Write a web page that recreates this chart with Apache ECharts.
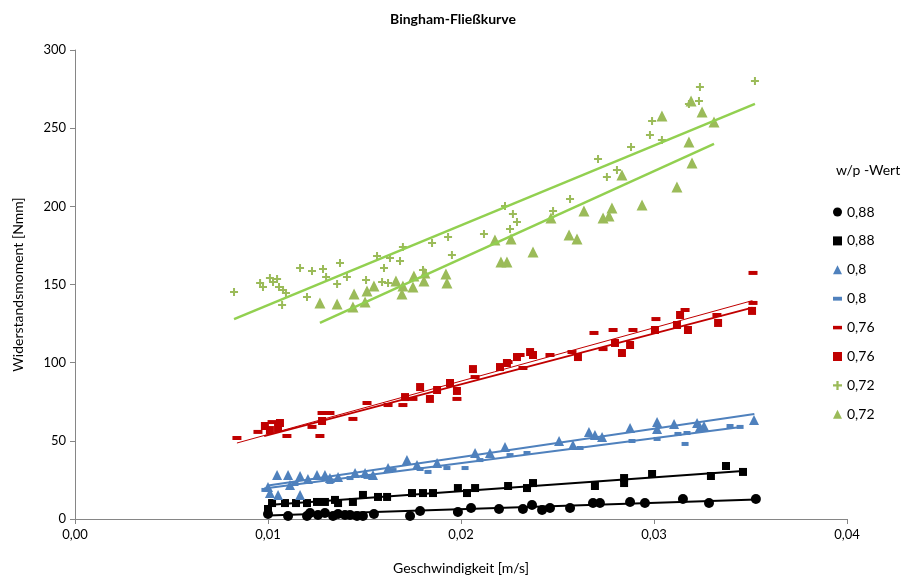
<!DOCTYPE html>
<html><head><meta charset="utf-8">
<script src="https://cdn.jsdelivr.net/npm/echarts@6/dist/echarts.min.js"></script>
<style>html,body{margin:0;padding:0;background:#fff}#c{width:906px;height:581px}</style>
</head><body><div id="c"></div>
<script>
// ---- data (x = Geschwindigkeit [m/s], y = Widerstandsmoment [Nmm]) ----
const xTicks = [0, 0.01, 0.02, 0.03, 0.04];
const yTicks = [0, 50, 100, 150, 200, 250, 300];
const legendNames = ['0,88', '0,88', '0,8', '0,8', '0,76', '0,76', '0,72', '0,72'];

const s088circle = [[0.0100,3.2],[0.01104,1.9],[0.01202,1.9],[0.01218,3.8],[0.01259,2.6],[0.01295,3.8],[0.01337,1.9],[0.01363,3.2],[0.01399,2.6],[0.01425,2.6],[0.01461,1.9],[0.01492,1.9],[0.01549,3.2],[0.01736,1.9],[0.01788,5.1],[0.01984,4.5],[0.02052,7.0],[0.02197,6.4],[0.02321,6.4],[0.02368,9.0],[0.02420,5.8],[0.02461,7.0],[0.02565,7.0],[0.02684,10.2],[0.02720,10.2],[0.02876,10.9],[0.02953,10.2],[0.03150,12.8],[0.03285,10.2],[0.03528,12.8]];
const s088square = [[0.0100,6.4],[0.01021,10.2],[0.01088,10.2],[0.01145,10.2],[0.01202,10.2],[0.01254,10.9],[0.01295,10.9],[0.01347,12.2],[0.01363,10.2],[0.01440,10.9],[0.01492,15.4],[0.01570,14.1],[0.01617,14.1],[0.01746,16.6],[0.01803,16.6],[0.01855,16.6],[0.01984,19.8],[0.02031,16.6],[0.02073,19.8],[0.02244,21.1],[0.02342,19.8],[0.02373,23.0],[0.02694,21.1],[0.02845,26.2],[0.02845,23.0],[0.02990,28.8],[0.03295,27.5],[0.03373,33.9],[0.03461,30.1]];
const s080tri = [[0.0100,20.5],[0.01010,16.6],[0.01047,28.1],[0.01052,15.4],[0.01104,28.1],[0.01114,21.7],[0.01166,27.5],[0.01166,15.4],[0.01207,25.6],[0.01254,28.1],[0.01295,28.1],[0.01321,26.2],[0.01363,26.9],[0.01451,29.4],[0.01503,29.4],[0.01544,28.1],[0.01622,32.6],[0.01720,37.7],[0.01772,34.5],[0.01876,35.8],[0.02073,42.2],[0.02150,42.2],[0.02228,46.1],[0.02508,49.9],[0.02580,47.3],[0.02663,55.7],[0.02694,53.7],[0.02731,52.5],[0.02876,58.2],[0.03016,62.0],[0.03016,57.6],[0.03104,60.8],[0.03223,61.4],[0.03238,58.9],[0.03259,59.5],[0.03518,63.3]];
const s080dash = [[0.00984,18.6],[0.0114,22.4],[0.01321,23.7],[0.01425,26.2],[0.01513,26.9],[0.01648,31.3],[0.01788,32.0],[0.01829,30.1],[0.01927,32.6],[0.02021,32.6],[0.02098,37.7],[0.02254,40.9],[0.02342,42.2],[0.02617,45.4],[0.02886,49.9],[0.03016,51.2],[0.03124,54.4],[0.03161,48.0],[0.03171,55.0],[0.03394,59.5],[0.03446,58.9]];
const s076dash = [[0.00839,51.8],[0.00948,55.7],[0.01021,62.0],[0.01098,53.1],[0.01228,58.9],[0.01269,53.1],[0.01280,67.8],[0.01321,67.8],[0.01440,64.0],[0.01513,74.2],[0.01622,72.9],[0.01699,72.9],[0.01751,76.8],[0.01979,76.8],[0.02073,90.8],[0.02244,100.4],[0.02321,96.6],[0.02306,104.9],[0.02461,104.9],[0.02575,106.8],[0.02689,119.0],[0.02736,108.7],[0.02788,120.9],[0.02891,120.9],[0.03010,127.9],[0.03161,133.7],[0.03326,130.5],[0.03513,157.4],[0.03513,138.2]];
const s076square = [[0.00984,59.5],[0.01010,56.9],[0.01052,58.2],[0.01062,61.4],[0.01280,62.7],[0.01710,78.0],[0.01788,84.4],[0.01839,76.8],[0.01876,82.5],[0.01943,87.0],[0.01979,81.9],[0.02062,95.9],[0.02202,97.2],[0.02238,99.8],[0.02290,103.6],[0.02358,106.8],[0.02373,104.9],[0.02606,103.6],[0.02798,112.6],[0.02834,106.2],[0.02876,111.3],[0.03005,120.9],[0.03119,124.1],[0.03135,130.5],[0.03176,120.9],[0.03332,125.4],[0.03508,133.1]];
const s072plus = [[0.00824,145.2],[0.00959,151.0],[0.00974,148.4],[0.01010,154.2],[0.01026,151.6],[0.01047,153.5],[0.01057,148.4],[0.01078,146.5],[0.01093,144.6],[0.01073,136.9],[0.01166,160.6],[0.01228,158.6],[0.01285,159.9],[0.01301,154.8],[0.01373,163.8],[0.01358,150.3],[0.01409,154.8],[0.01202,142.0],[0.01508,152.9],[0.01565,168.2],[0.01601,160.6],[0.01632,167.0],[0.01684,165.0],[0.01699,174.0],[0.01591,151.6],[0.01622,151.0],[0.01803,159.3],[0.01850,176.6],[0.01933,180.4],[0.01953,168.9],[0.02119,182.3],[0.02254,185.5],[0.02290,190.0],[0.02228,200.2],[0.02269,195.1],[0.02477,197.0],[0.02565,204.7],[0.02710,230.3],[0.02756,218.8],[0.02808,223.2],[0.02881,238.0],[0.02979,245.6],[0.02990,254.6],[0.03041,242.4],[0.03181,265.5],[0.03233,267.4],[0.03238,276.3],[0.03523,280.2]];
const s072tri = [[0.01269,138.2],[0.01358,137.5],[0.01440,135.6],[0.01446,143.9],[0.01503,138.8],[0.01513,145.8],[0.01549,149.0],[0.01663,152.2],[0.01694,143.9],[0.01699,149.0],[0.01751,148.4],[0.01756,155.4],[0.01808,152.2],[0.01813,157.4],[0.01922,156.7],[0.01927,151.0],[0.02176,178.5],[0.02207,164.4],[0.02238,164.4],[0.02259,179.1],[0.02373,170.8],[0.02466,192.5],[0.02560,181.7],[0.02601,179.1],[0.02637,197.0],[0.02736,192.5],[0.02767,193.8],[0.02782,198.9],[0.02834,220.0],[0.02938,200.9],[0.03041,257.8],[0.03119,212.4],[0.03181,241.2],[0.03197,227.7],[0.03192,267.4],[0.03249,260.3],[0.03311,254.0]];

// linear trend lines (end points)
const t088circle = [[0.0100,2.3],[0.0353,12.5]];
const t088square = [[0.0100,9.0],[0.0346,30.7]];
const t080tri = [[0.0100,21.5],[0.0352,67.2]];
const t080dash = [[0.0098,19.5],[0.0345,58.9]];
const t076dash = [[0.00839,48.6],[0.0351,139.7]];
const t076square = [[0.0098,53.0],[0.0351,135.2]];
const t072plus = [[0.00824,127.9],[0.03523,265.5]];
const t072tri = [[0.01269,125.4],[0.03311,239.9]];

// ---- styling ----
const BLACK = '#000000', BLUE = '#4F81BD', RED = '#C00000', OLIVE = '#9BBB59', LGREEN = '#92D050';
const PLUS = 'path://M3,0H5V3H8V5H5V8H3V5H0V3H3Z';
const FONT = 'Lato, "Open Sans", sans-serif';

const scatterDefs = [
  {key:'a', data:s088circle, symbol:'circle', size:10, color:BLACK, legendIcon:'circle'},
  {key:'b', data:s088square, symbol:'rect', size:8, color:BLACK, legendIcon:'path://M0,0H8V8H0Z'},
  {key:'c', data:s080tri, symbol:'triangle', size:10, color:BLUE, legendIcon:'triangle'},
  {key:'d', data:s080dash, symbol:'rect', size:[7,4], color:BLUE, legendIcon:'path://M0,0H7V3H0Z'},
  {key:'e', data:s076dash, symbol:'rect', size:[9,4], color:RED, legendIcon:'path://M0,0H9V3.5H0Z'},
  {key:'f', data:s076square, symbol:'rect', size:8, color:RED, legendIcon:'path://M0,0H8V8H0Z'},
  {key:'g', data:s072plus, symbol:PLUS, size:8, color:OLIVE, legendIcon:PLUS},
  {key:'h', data:s072tri, symbol:'triangle', size:11, color:OLIVE, legendIcon:'triangle'}
];
const trendDefs = [
  {data:t088circle, color:BLACK, w:2},
  {data:t088square, color:BLACK, w:2},
  {data:t080tri, color:BLUE, w:2},
  {data:t080dash, color:BLUE, w:2},
  {data:t076dash, color:RED, w:1},
  {data:t076square, color:RED, w:2},
  {data:t072plus, color:LGREEN, w:2.5},
  {data:t072tri, color:LGREEN, w:2.5}
];

const series = [];
scatterDefs.forEach((d, i) => {
  series.push({
    type:'scatter', name: legendNames[i] + ' ' + d.key, data:d.data,
    symbol:d.symbol, symbolSize:d.size, symbolKeepAspect:true,
    itemStyle:{color:d.color, opacity:1}, z:2, silent:true
  });
});
trendDefs.forEach(t => {
  series.push({
    type:'line', data:t.data, symbol:'none', lineStyle:{color:t.color, width:t.w},
    z:3, silent:true, animation:false
  });
});

const chart = echarts.init(document.getElementById('c'), null, {renderer:'canvas'});
chart.setOption({
  animation:false,
  backgroundColor:'#fff',
  title:[
    {text:'Bingham-Fließkurve', left:'center', top:7, textStyle:{fontFamily:FONT, fontSize:14, fontWeight:'bold', color:'#000'}},
    {text:'w/p -Wert', left:831, top:158, textStyle:{fontFamily:FONT, fontSize:14, fontWeight:'normal', color:'#000'}}
  ],
  grid:{left:75, right:59, top:50, bottom:62, containLabel:false},
  legend:{
    orient:'vertical', left:828, top:199, itemWidth:9, itemHeight:9, itemGap:12.9,
    symbolKeepAspect:true,
    textStyle:{fontFamily:FONT, fontSize:14, color:'#000', lineHeight:16, padding:[0,0,0,0]},
    formatter: n => n.split(' ')[0],
    data: scatterDefs.map((d, i) => ({name: legendNames[i] + ' ' + d.key, icon: d.legendIcon, itemStyle:{color:d.color}}))
  },
  xAxis:{
    type:'value', min:xTicks[0], max:xTicks[xTicks.length-1], interval:0.01,
    name:'Geschwindigkeit [m/s]', nameLocation:'middle', nameGap:42,
    nameTextStyle:{fontFamily:FONT, fontSize:14, color:'#000'},
    axisLine:{show:true, onZero:false, lineStyle:{color:'#868686', width:1}},
    axisTick:{show:true, inside:false, length:5, lineStyle:{color:'#868686'}},
    axisLabel:{fontFamily:FONT, fontSize:13, color:'#000', margin:9, formatter:v => v.toFixed(2).replace('.', ',')},
    splitLine:{show:false}
  },
  yAxis:{
    type:'value', min:yTicks[0], max:yTicks[yTicks.length-1], interval:50,
    name:'Widerstandsmoment [Nmm]', nameLocation:'middle', nameGap:50,
    nameTextStyle:{fontFamily:FONT, fontSize:14, color:'#000'},
    axisLine:{show:true, onZero:false, lineStyle:{color:'#868686', width:1}},
    axisTick:{show:true, inside:false, length:5, lineStyle:{color:'#868686'}},
    axisLabel:{fontFamily:FONT, fontSize:13, color:'#000', margin:9},
    splitLine:{show:false}
  },
  series
});
</script></body></html>
